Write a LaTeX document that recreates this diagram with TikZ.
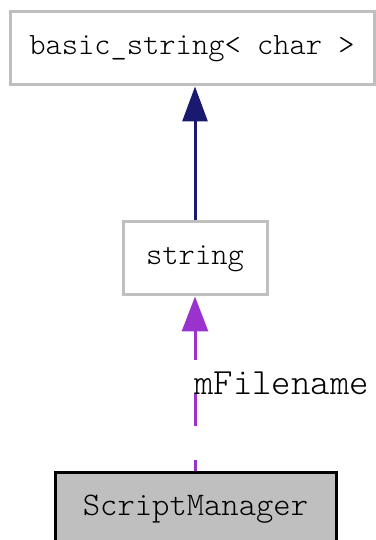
\documentclass[tikz,border=0pt]{standalone}
\usepackage{fontspec}
\setmonofont{Latin Modern Mono Light}
\usepackage{tikz}
\usetikzlibrary{arrows.meta}
\definecolor{edgegray}{HTML}{BFBFBF}
\definecolor{inhnavy}{HTML}{191970}
\definecolor{usepurple}{HTML}{9A32CD}
\begin{document}
\begin{tikzpicture}[x=1pt,y=1pt,
    classbox/.style={rectangle,draw=edgegray,line width=3pt,fill=white,
      minimum height=73pt,inner sep=0pt,font=\ttfamily\fontsize{31}{33}\selectfont},
    mainbox/.style={classbox,draw=black,fill=edgegray,font=\ttfamily\fontsize{33}{35}\selectfont}]
        \useasboundingbox (0,0) rectangle (375,540);
        \node[classbox,minimum width=364pt] (bs) at (192,491.5) {basic\_string< char >};
        \node[classbox,minimum width=144pt] (str) at (195,281.5) {string};
        \node[mainbox,minimum width=281pt] (sm) at (195.5,30.5) {ScriptManager};
        \draw[inhnavy,line width=3pt,-{Triangle[length=35pt,width=25pt]}] (str) -- (str |- bs.south);
        \draw[usepurple,line width=3pt,dash pattern=on 32pt off 34pt,dash phase=21pt,
          -{Triangle[length=35pt,width=26pt]}] (str |- sm.north) -- (str);
        \node[anchor=west,inner sep=0pt,font=\ttfamily\fontsize{37}{39}\selectfont] (fname) at (194,157) {mFilename};
\end{tikzpicture}
\end{document}
